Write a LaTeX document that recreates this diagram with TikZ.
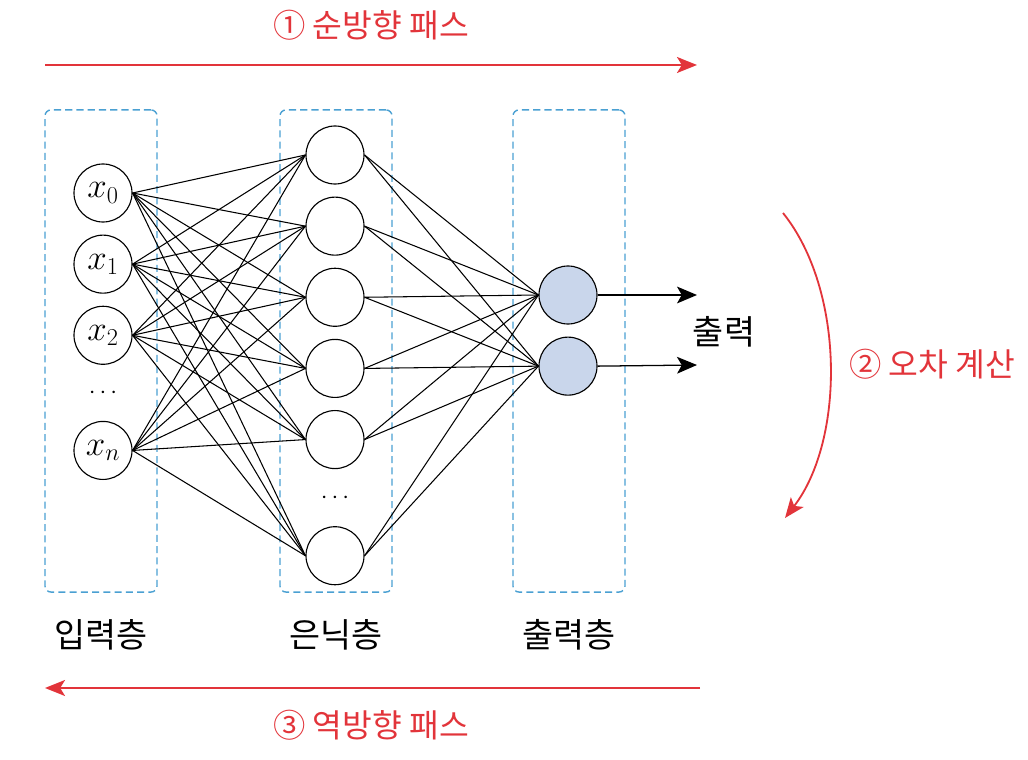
\documentclass[tikz,border=0pt]{standalone}
\usepackage{fontspec}
\newfontfamily\kofont{Noto Sans CJK KR}
\usetikzlibrary{positioning, arrows.meta, calc}
\definecolor{passRed}{HTML}{E2343A}
\definecolor{layerBlue}{HTML}{4AA0D2}
\definecolor{outFill}{HTML}{C9D6EB}

\begin{document}
\begin{tikzpicture}[x=0.025cm, y=-0.025cm, node distance=0.3cm,
    neuron/.style={circle, draw, line width=0.8pt, minimum size=1.45cm,
                   inner sep=0pt, font=\fontsize{24}{28}\selectfont},
    outneuron/.style={neuron, fill=outFill},
    layerbox/.style={draw=layerBlue, dash pattern=on 5pt off 3pt, line width=1pt,
                     rounded corners=0.15cm, minimum width=2.8cm, minimum height=12.05cm},
    layertext/.style={font=\kofont\fontsize{24}{28}\selectfont},
    passtext/.style={font=\kofont\fontsize{23}{27}\selectfont, text=passRed},
    passarrow/.style={draw=passRed, line width=1.3pt,
                      -{Stealth[length=0.5cm, width=0.4cm, inset=0.12cm]}},
    link/.style={line width=0.75pt},
    outlink/.style={line width=0.9pt, -{Stealth[length=0.5cm, width=0.42cm, inset=0.12cm]}},
    dotsnode/.style={font=\fontsize{18}{20}\selectfont}]
    \useasboundingbox (0,0) rectangle (1028,760);

    % layer boxes and their names
    \node[layerbox] (inbox) at (101,351) {};
    \node[layerbox] (hidbox) at (336,351) {};
    \node[layerbox] (outbox) at (569,351) {};
    \node[layertext] (inname) at ([yshift=-1.04cm]inbox.south) {입력층};
    \node[layertext] (hidname) at ([yshift=-1.04cm]hidbox.south) {은닉층};
    \node[layertext] (outname) at ([yshift=-1.04cm]outbox.south) {출력층};

    % input layer
    \node[neuron] (x0) at (103,193) {$x_0$};
    \node[neuron, below=of x0] (x1) {$x_1$};
    \node[neuron, below=of x1] (x2) {$x_2$};
    \node[neuron, below=1.4cm of x2] (xn) {$x_n$};
    \node[dotsnode] (xdots) at ($(x2)!0.5!(xn)$) {$\cdots$};

    % hidden layer
    \node[neuron] (h1) at (335,155) {};
    \node[neuron, below=of h1] (h2) {};
    \node[neuron, below=of h2] (h3) {};
    \node[neuron, below=of h3] (h4) {};
    \node[neuron, below=of h4] (h5) {};
    \node[neuron, below=1.425cm of h5] (h6) {};
    \node[dotsnode] (hdots) at ($(h5)!0.5!(h6)$) {$\cdots$};

    % output layer
    \node[outneuron] (o1) at (568,295) {};
    \node[outneuron, below=of o1] (o2) {};

    \foreach \a in {x0,x1,x2,xn}
      \foreach \b in {h1,h2,h3,h4,h5,h6}
        \draw[link] (\a.east) -- (\b.west);
    \foreach \b in {h1,h2,h3,h4,h5,h6}
      \foreach \c in {o1,o2}
        \draw[link] (\b.east) -- (\c.west);

    \coordinate (out1) at (697,295);
    \coordinate (out2) at (697,365);
    \draw[outlink] (o1.east) -- (out1);
    \draw[outlink] (o2.east) -- (out2);
    \node[layertext] (outword) at (724,332) {출력};

    % the three passes
    \coordinate (fwdstart) at (45,65);
    \coordinate (fwdend) at (697,65);
    \draw[passarrow] (fwdstart) -- (fwdend);
    \node[passtext] (fwdtext) at (371,25) {① 순방향 패스};

    \coordinate (errstart) at (783,213);
    \coordinate (errend) at (785,518);
    \draw[passarrow] (errstart) .. controls (845,290) and (845,440) .. (errend);
    \node[passtext] (errtext) at (932,364) {② 오차 계산};

    \coordinate (backstart) at (700,688);
    \coordinate (backend) at (45,688);
    \draw[passarrow] (backstart) -- (backend);
    \node[passtext] (backtext) at (371,725) {③ 역방향 패스};
\end{tikzpicture}
\end{document}
